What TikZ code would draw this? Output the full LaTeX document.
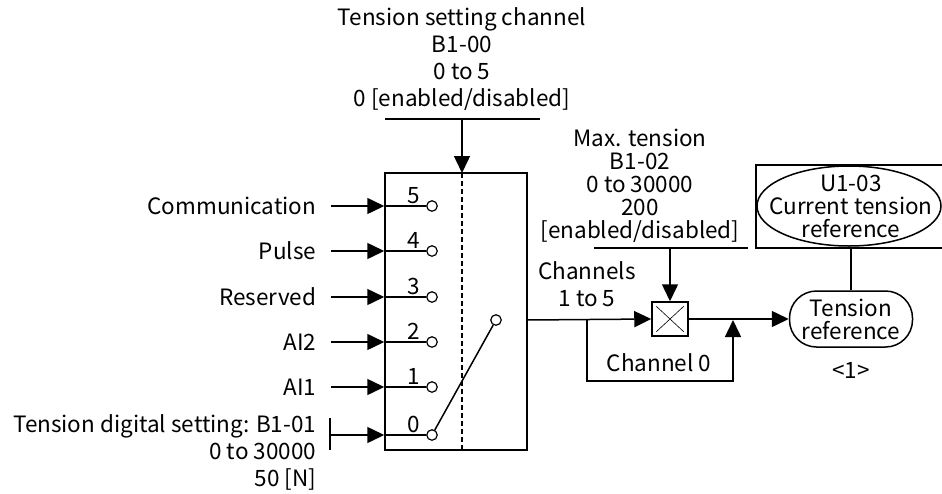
\documentclass[tikz,border=0pt]{standalone}
\usepackage{fontspec}
\setmainfont{Noto Sans CJK SC}
\usetikzlibrary{arrows.meta}

\begin{document}
\begin{tikzpicture}[x=1pt,y=-1pt,line width=1.5pt,
  txt/.style={inner sep=0pt,font=\fontsize{22.5}{23}\selectfont},
  txtw/.style={inner sep=0pt,font=\fontsize{22.5}{27}\selectfont},
  arr/.style={-{Triangle[length=17pt,width=16pt]}},
  contact/.style={circle,draw,fill=white,inner sep=0pt,minimum size=10.5pt,line width=1.2pt}]
  \useasboundingbox (0,0) rectangle (942,493);
  \node[txtw,align=center] (chsel) at (462,59) {Tension setting channel\\B1-00\\0 to 5\\0 [enabled/disabled]};
  \coordinate (chselL) at (385,119);
  \coordinate (chselR) at (540,119);
  \coordinate (chselA) at (462,119);
  \draw (chselL) -- (chselR);
  \node[draw,minimum width=142pt,minimum height=277pt,inner sep=0pt] (sw) at (456,311.5) {};
  \coordinate (dashT) at (462,173);
  \coordinate (dashB) at (462,450);
  \draw[arr] (chselA) -- (dashT);
  \draw[dashed,dash pattern=on 5pt off 3pt,line width=1.2pt] (dashT) -- (dashB);
  \foreach \n/\y/\t in {5/206/Communication,4/251/Pulse,3/297/Reserved,2/342/AI2,1/387/AI1}{
    \node[txt,anchor=east] (in\n) at (317,\y) {\t};
    \coordinate (s\n) at (331,\y);
    \draw[arr] (s\n) -- (s\n -| sw.west);
  }
  \foreach \n/\y in {5/206,4/251,3/297,2/342,1/387,0/435}{
    \node[contact] (c\n) at (432,\y) {};
    \draw (c\n -| sw.west) -- (c\n);
    \node[txt,anchor=base] (n\n) at (414,\y-3) {\n};
  }
  \node[txtw,anchor=east,align=right] (in0) at (317,452) {Tension digital setting: B1-01\\0 to 30000\\50 [N]};
  \coordinate (s0) at (330,435);
  \coordinate (barT) at (330,418);
  \coordinate (barB) at (330,450);
  \draw (barT) -- (barB);
  \draw[arr] (s0) -- (s0 -| sw.west);
  \node[contact] (cc) at (496,320) {};
  \draw (c0) -- (cc);
  \coordinate (out) at (527,320);
  \node[draw,minimum width=36pt,minimum height=34pt,inner sep=0pt] (mul) at (670,319) {};
  \draw[line width=0.6pt] ([shift={(5,5)}]mul.north west) -- ([shift={(-5,-5)}]mul.south east);
  \draw[line width=0.6pt] ([shift={(-5,5)}]mul.north east) -- ([shift={(5,-5)}]mul.south west);
  \draw[arr] (out) -- (mul.west);
  \node[txtw,align=center] (chn) at (587,284) {Channels\\1 to 5};
  \coordinate (br) at (587,320);
  \coordinate (low) at (733,381);
  \coordinate (j) at (733,320);
  \draw[arr] (br) |- (low) -- (j);
  \node[txt] (ch0) at (659,363) {Channel 0};
  \node[txt,align=center] (maxt) at (640,186) {Max. tension\\B1-02\\0 to 30000\\200\\{[enabled/disabled]}};
  \coordinate (maxL) at (594,248);
  \coordinate (maxR) at (748,248);
  \coordinate (maxA) at (670,248);
  \draw (maxL) -- (maxR);
  \draw[arr] (maxA) -- (mul.north);
  \node[txt,draw,align=center,rounded corners=27pt,minimum width=123pt,minimum height=56pt] (tref) at (851,319) {Tension\\reference};
  \draw[arr] (mul.east) -- (tref.west);
  \node[txt] (note) at (851,370) {<1>};
  \node[draw,minimum width=194pt,minimum height=83pt,inner sep=0pt] (mon) at (853,206.5) {};
  \node[txt,align=center] (ell) at (851,206) {U1-03\\Current tension\\reference};
  \draw (849,206) ellipse [x radius=92, y radius=40];
  \draw (tref.north) -- (tref.north |- mon.south);
\end{tikzpicture}
\end{document}
